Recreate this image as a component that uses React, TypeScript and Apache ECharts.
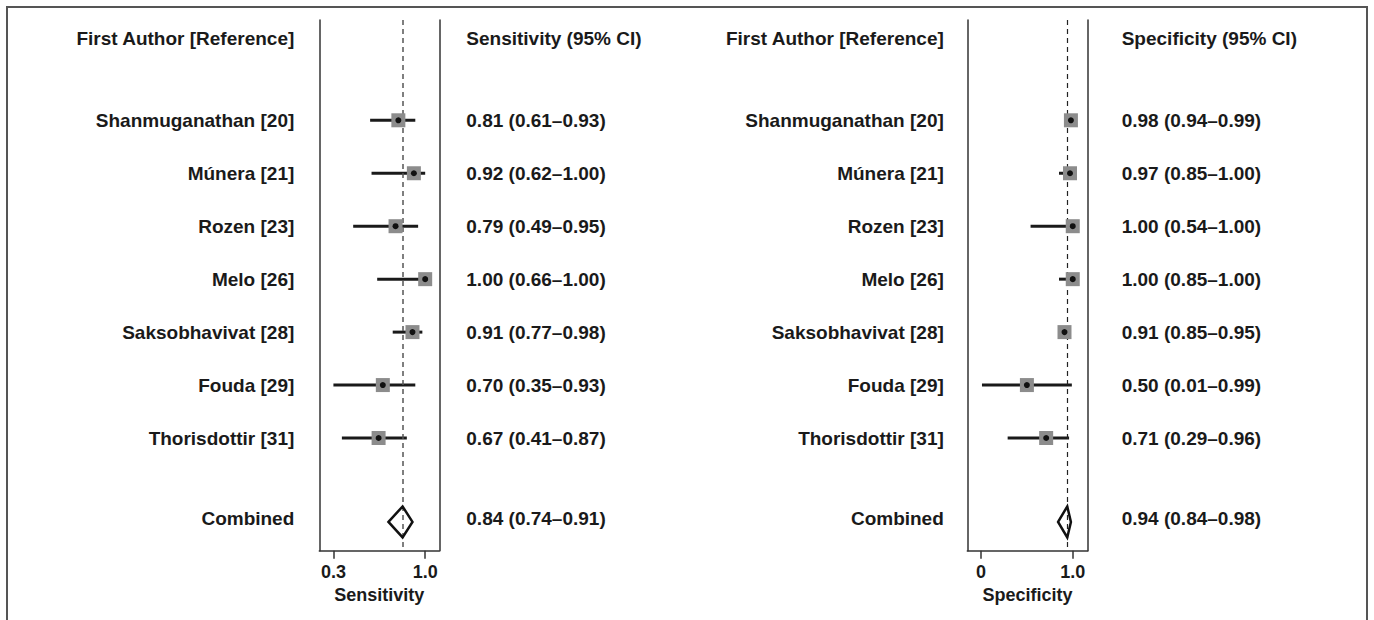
import React, { useEffect, useRef } from "react";
import * as echarts from "echarts";

// ---- data ----
const authors = [
  "Shanmuganathan [20]",
  "Múnera [21]",
  "Rozen [23]",
  "Melo [26]",
  "Saksobhavivat [28]",
  "Fouda [29]",
  "Thorisdottir [31]",
];
const sensEst = [0.81, 0.92, 0.79, 1.0, 0.91, 0.7, 0.67];
const sensLo = [0.61, 0.62, 0.49, 0.66, 0.77, 0.35, 0.41];
const sensHi = [0.93, 1.0, 0.95, 1.0, 0.98, 0.93, 0.87];
const specEst = [0.98, 0.97, 1.0, 1.0, 0.91, 0.5, 0.71];
const specLo = [0.94, 0.85, 0.54, 0.85, 0.85, 0.01, 0.29];
const specHi = [0.99, 1.0, 1.0, 1.0, 0.95, 0.99, 0.96];
const sensPooled = [0.84, 0.74, 0.91]; // est, lo, hi
const specPooled = [0.94, 0.84, 0.98];
const sensTickValues = [0.35, 1.0];
const sensTickLabels = ["0.3", "1.0"];
const specTickValues = [0, 1.0];
const specTickLabels = ["0", "1.0"];

// ---- layout ----
const ROW_HEADER = -0.54;
const ROW_COMBINED_TEXT = 8.52;
const ROW_COMBINED = 8.585;
const Y_MIN = -0.894;
const Y_MAX = 9.128;
const FONT = "'Liberation Sans', Arial, Helvetica, sans-serif";
const TXT = "#1a1a1a";

const fmt = (e: number, l: number, h: number) =>
  `${e.toFixed(2)} (${l.toFixed(2)}–${h.toFixed(2)})`;

function panel(
  idx: number,
  xMin: number,
  xMax: number,
  est: number[],
  lo: number[],
  hi: number[],
  pooled: number[],
  header: string,
  axisName: string,
  tickValues: number[],
  tickLabels: string[],
  leftDist: number,
  rightDist: number,
  dashColor: string,
  dashWidth: number
) {
  const rows = est.map((_, i) => i + 1);
  const textStyle = {
    fontFamily: FONT,
    fontWeight: "bold" as const,
    fontSize: 19,
    color: TXT,
  };
  const xAxis = {
    gridIndex: idx,
    type: "value",
    min: xMin,
    max: xMax,
    splitLine: { show: false },
    axisLine: { show: true, onZero: false, lineStyle: { color: "#333", width: 1.5 } },
    axisTick: {
      show: true,
      customValues: tickValues,
      length: 8,
      lineStyle: { color: "#333", width: 1.5 },
    },
    axisLabel: {
      show: true,
      customValues: tickValues,
      margin: 12,
      formatter: (v: number) => {
        const k = tickValues.findIndex((t) => Math.abs(t - v) < 1e-6);
        return k >= 0 ? tickLabels[k] : "";
      },
      fontFamily: FONT,
      fontWeight: "bold",
      fontSize: 18,
      color: TXT,
    },
    name: axisName,
    nameLocation: "middle",
    nameGap: 35,
    nameTextStyle: { fontFamily: FONT, fontWeight: "bold", fontSize: 18, color: TXT },
  };
  const yBase = {
    gridIndex: idx,
    type: "value",
    inverse: true,
    min: Y_MIN,
    max: Y_MAX,
    splitLine: { show: false },
    axisTick: { show: false },
    axisLabel: { show: false },
    axisLine: { show: true, onZero: false, lineStyle: { color: "#333", width: 1.5 } },
  };
  const yAxes = [
    { ...yBase, position: "left" },
    { ...yBase, position: "right" },
  ];
  const ya = idx * 2;
  const series: any[] = [
    {
      type: "custom",
      xAxisIndex: idx,
      yAxisIndex: ya,
      data: rows.map((r, i) => [lo[i], hi[i], r]),
      renderItem: (_p: any, api: any) => {
        const a = api.coord([api.value(0), api.value(2)]);
        const b = api.coord([api.value(1), api.value(2)]);
        return {
          type: "line",
          shape: { x1: a[0], y1: a[1], x2: b[0], y2: b[1] },
          style: { stroke: "#1a1a1a", lineWidth: 3 },
        };
      },
      z: 2,
    },
    {
      type: "scatter",
      xAxisIndex: idx,
      yAxisIndex: ya,
      symbol: "rect",
      symbolSize: 14,
      itemStyle: { color: "#8c8c8c", opacity: 1 },
      data: rows.map((r, i) => [est[i], r]),
      z: 4,
      markLine: {
        silent: true,
        symbol: "none",
        label: { show: false },
        lineStyle: { color: dashColor, width: dashWidth, type: [5, 4] },
        data: [{ xAxis: pooled[0] }],
        z: 3,
      },
    },
    {
      type: "scatter",
      xAxisIndex: idx,
      yAxisIndex: ya,
      symbol: "circle",
      symbolSize: 6,
      itemStyle: { color: "#111", opacity: 1 },
      data: rows.map((r, i) => [est[i], r]),
      z: 5,
    },
    {
      type: "custom",
      xAxisIndex: idx,
      yAxisIndex: ya,
      data: [[pooled[0], pooled[1], pooled[2], ROW_COMBINED]],
      renderItem: (_p: any, api: any) => {
        const c = api.coord([api.value(0), api.value(3)]);
        const l = api.coord([api.value(1), api.value(3)]);
        const r = api.coord([api.value(2), api.value(3)]);
        return {
          type: "polygon",
          shape: {
            points: [
              [l[0], c[1]],
              [c[0], c[1] - 15.5],
              [r[0], c[1]],
              [c[0], c[1] + 15.5],
            ],
          },
          style: { fill: "none", stroke: "#111", lineWidth: 2.5 },
        };
      },
      z: 5,
    },
  ];
  // text columns
  const leftTexts = ["First Author [Reference]", ...authors, "Combined"];
  const textRows = [ROW_HEADER, ...rows, ROW_COMBINED_TEXT];
  const rightTexts = [
    header,
    ...est.map((e, i) => fmt(e, lo[i], hi[i])),
    fmt(pooled[0], pooled[1], pooled[2]),
  ];
  series.push({
    type: "scatter",
    xAxisIndex: idx,
    yAxisIndex: ya,
    symbolSize: 0,
    silent: true,
    itemStyle: { opacity: 1 },
    data: textRows.map((r) => [xMin, r]),
    label: {
      show: true,
      position: "left",
      distance: leftDist,
      formatter: (p: any) => leftTexts[p.dataIndex],
      ...textStyle,
    },
  });
  series.push({
    type: "scatter",
    xAxisIndex: idx,
    yAxisIndex: ya,
    symbolSize: 0,
    silent: true,
    itemStyle: { opacity: 1 },
    data: textRows.map((r) => [xMax, r]),
    label: {
      show: true,
      position: "right",
      distance: rightDist,
      formatter: (p: any) => rightTexts[p.dataIndex],
      ...textStyle,
    },
  });
  return { xAxis, yAxes, series };
}

export default function App() {
  const ref = useRef<HTMLDivElement>(null);
  useEffect(() => {
    if (!ref.current) return;
    const chart = echarts.init(ref.current, null, { renderer: "svg" });
    const p1 = panel(
      0, 0.25, 1.1, sensEst, sensLo, sensHi, sensPooled,
      "Sensitivity (95% CI)", "Sensitivity", sensTickValues, sensTickLabels,
      25, 27, "#555", 1.5
    );
    const p2 = panel(
      1, -0.15, 1.163, specEst, specLo, specHi, specPooled,
      "Specificity (95% CI)", "Specificity", specTickValues, specTickLabels,
      23.5, 34, "#222", 1.2
    );
    chart.setOption({
      animation: false,
      backgroundColor: "#fff",
      grid: [
        { left: 319.3, top: 20, width: 120, height: 530.7 },
        { left: 967.3, top: 20, width: 120.4, height: 530.7 },
      ],
      xAxis: [p1.xAxis, p2.xAxis],
      yAxis: [...p1.yAxes, ...p2.yAxes],
      series: [...p1.series, ...p2.series],
      graphic: [
        {
          type: "rect",
          shape: { x: 7, y: 7, width: 1360, height: 1000 },
          style: { fill: "none", stroke: "#555", lineWidth: 2 },
          silent: true,
          z: 100,
        },
      ],
    });
    return () => chart.dispose();
  }, []);
  return (
    <div
      ref={ref}
      style={{ position: "absolute", left: 0, top: 0, width: 1374, height: 620 }}
    />
  );
}
